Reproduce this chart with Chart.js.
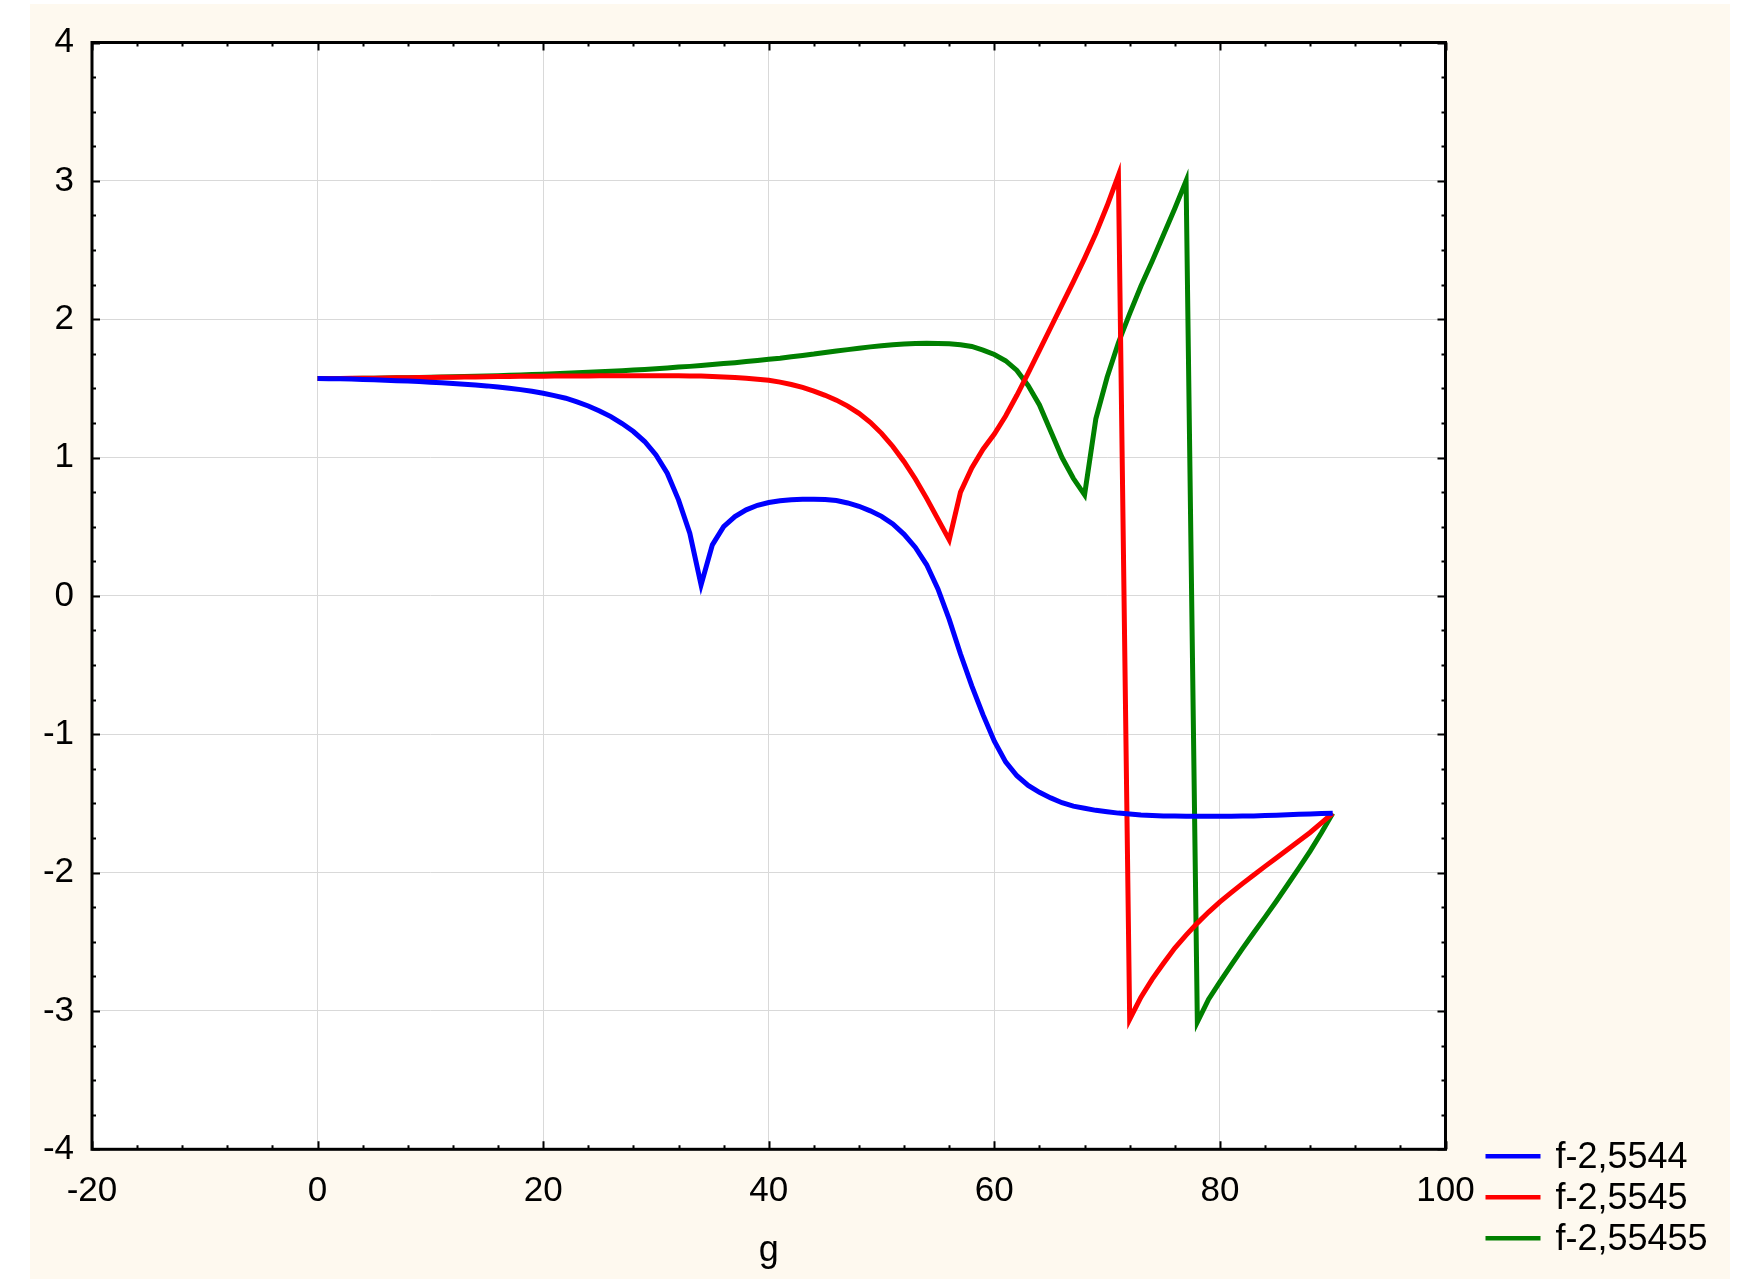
<!DOCTYPE html>
<html>
<head>
<meta charset="utf-8">
<script src="https://cdn.jsdelivr.net/npm/chart.js@4/dist/chart.umd.min.js"></script>
<style>
  html, body { margin: 0; padding: 0; background: #ffffff; }
  #wrap { width: 1737px; height: 1287px; }
</style>
</head>
<body>
<div id="wrap"><canvas id="c" width="1737" height="1287"></canvas></div>
<script>
// ---- data ----
const gValues = [
  0,1,2,3,4,5,6,7,8,9,10,11,12,13,14,15,16,17,18,19,20,
  21,22,23,24,25,26,27,28,29,30,31,32,33,34,35,36,37,38,39,40,
  41,42,43,44,45,46,47,48,49,50,51,52,53,54,55,56,57,58,59,60,
  61,62,63,64,65,66,67,68,69,70,71,72,73,74,75,76,77,78,79,80,
  81,82,83,84,85,86,87,88,89,90
];
const seriesLabels = ['f-2,5544', 'f-2,5545', 'f-2,55455'];
const f25544 = [
  1.571,1.570,1.569,1.567,1.565,1.562,1.559,1.556,1.553,1.549,1.545,
  1.541,1.536,1.530,1.524,1.518,1.510,1.501,1.491,1.479,1.465,
  1.448,1.429,1.403,1.373,1.337,1.296,1.246,1.188,1.116,1.019,
  0.887,0.694,0.453,0.080,0.369,0.501,0.573,0.622,0.655,0.675,
  0.688,0.695,0.699,0.699,0.696,0.689,0.672,0.648,0.615,0.575,
  0.520,0.445,0.350,0.225,0.050,-0.170,-0.420,-0.650,-0.860,-1.050,
  -1.200,-1.300,-1.370,-1.420,-1.460,-1.495,-1.520,-1.535,-1.550,-1.560,
  -1.570,-1.577,-1.583,-1.587,-1.590,-1.591,-1.592,-1.592,-1.592,-1.592,
  -1.592,-1.591,-1.590,-1.588,-1.585,-1.582,-1.579,-1.576,-1.573,-1.571
];
const f25545 = [
  1.571,1.571,1.572,1.573,1.573,1.574,1.575,1.576,1.577,1.578,1.579,
  1.580,1.581,1.582,1.583,1.584,1.585,1.586,1.587,1.587,1.588,
  1.589,1.589,1.590,1.590,1.591,1.591,1.591,1.592,1.592,1.592,
  1.592,1.591,1.590,1.589,1.586,1.583,1.578,1.573,1.566,1.558,
  1.545,1.528,1.507,1.480,1.450,1.415,1.372,1.320,1.255,1.175,
  1.080,0.970,0.845,0.705,0.555,0.405,0.750,0.925,1.060,1.170,
  1.300,1.450,1.610,1.775,1.940,2.105,2.270,2.440,2.620,2.820,
  3.040,-3.060,-2.900,-2.770,-2.655,-2.545,-2.452,-2.365,-2.285,-2.212,
  -2.145,-2.080,-2.017,-1.955,-1.894,-1.833,-1.772,-1.710,-1.640,-1.571
];
const f255455 = [
  1.571,1.571,1.572,1.572,1.573,1.574,1.575,1.576,1.577,1.578,1.580,
  1.582,1.584,1.586,1.588,1.590,1.592,1.595,1.597,1.600,1.603,
  1.606,1.609,1.613,1.616,1.620,1.624,1.628,1.632,1.637,1.642,
  1.648,1.654,1.659,1.665,1.672,1.679,1.686,1.694,1.702,1.710,
  1.718,1.728,1.738,1.748,1.760,1.770,1.780,1.790,1.800,1.808,
  1.815,1.820,1.824,1.826,1.825,1.822,1.815,1.803,1.777,1.745,
  1.700,1.630,1.520,1.380,1.190,1.000,0.850,0.730,1.280,1.580,
  1.830,2.040,2.240,2.420,2.610,2.800,3.000,-3.080,-2.915,-2.790,
  -2.668,-2.550,-2.435,-2.322,-2.207,-2.088,-1.968,-1.845,-1.712,-1.571
];
const xTickStep = 20, yTickStep = 1;
const xMinorStep = 4, yMinorStep = 0.25;

// ---- styling ----
const CREAM = '#fef9ef';
const FONT = "'Liberation Sans', Arial, sans-serif";
const colors = ['#0000ff', '#ff0000', '#008000'];
const seriesData = [f25544, f25545, f255455];

const toPoints = arr => gValues.map((g, i) => ({x: g, y: arr[i]}));

const framePlugin = {
  id: 'frame',
  beforeDraw(chart) {
    const {ctx, chartArea: a, width, height} = chart;
    ctx.save();
    ctx.fillStyle = '#ffffff';
    ctx.fillRect(0, 0, width, height);
    ctx.fillStyle = CREAM;
    ctx.fillRect(30, 4, width - 30 - 7, height - 4 - 8);
    ctx.fillStyle = '#ffffff';
    ctx.fillRect(a.left, a.top, a.right - a.left, a.bottom - a.top);
    ctx.restore();
  },
  afterDraw(chart) {
    const {ctx, chartArea: a, scales} = chart;
    const xs = scales.x, ys = scales.y;
    ctx.save();
    ctx.strokeStyle = '#000000';
    // inward tick marks
    ctx.lineWidth = 2;
    ctx.beginPath();
    for (let v = xs.min; v <= xs.max + 1e-9; v += xMinorStep) {
      const p = Math.round(xs.getPixelForValue(v)) + 0.5;
      const major = Math.abs(v / xTickStep - Math.round(v / xTickStep)) < 1e-6;
      const len = major ? 8 : 4;
      ctx.moveTo(p, a.bottom); ctx.lineTo(p, a.bottom - len);
      ctx.moveTo(p, a.top); ctx.lineTo(p, a.top + len);
    }
    for (let v = ys.min; v <= ys.max + 1e-9; v += yMinorStep) {
      const p = Math.round(ys.getPixelForValue(v)) + 0.5;
      const major = Math.abs(v / yTickStep - Math.round(v / yTickStep)) < 1e-6;
      const len = major ? 8 : 4;
      ctx.moveTo(a.left, p); ctx.lineTo(a.left + len, p);
      ctx.moveTo(a.right, p); ctx.lineTo(a.right - len, p);
    }
    ctx.stroke();
    // frame
    ctx.lineWidth = 3;
    ctx.strokeRect(a.left, a.top, a.right - a.left, a.bottom - a.top);

    // legend (bottom right, below the frame)
    const lx0 = a.right + 40, lx1 = a.right + 95, tx = a.right + 110;
    ctx.font = '36px ' + FONT;
    ctx.textBaseline = 'middle';
    ctx.textAlign = 'left';
    chart.data.datasets.forEach((ds, i) => {
      const y = a.bottom + 7 + i * 41;
      ctx.strokeStyle = ds.borderColor;
      ctx.lineWidth = 4.5;
      ctx.beginPath();
      ctx.moveTo(lx0, y); ctx.lineTo(lx1, y);
      ctx.stroke();
      ctx.fillStyle = '#000000';
      ctx.fillText(ds.label, tx, y + 2);
    });
    ctx.restore();
  }
};

new Chart(document.getElementById('c'), {
  type: 'line',
  data: {
    datasets: seriesLabels.map((lab, i) => ({
      label: lab,
      data: toPoints(seriesData[i]),
      borderColor: colors[i],
      backgroundColor: colors[i],
      borderWidth: 5,
      borderJoinStyle: 'miter',
      pointRadius: 0,
      pointHoverRadius: 0,
      tension: 0,
      fill: false
    }))
  },
  options: {
    responsive: false,
    maintainAspectRatio: false,
    devicePixelRatio: 1,
    animation: false,
    events: [],
    layout: { padding: { left: 0, top: 42.5, right: 291.5, bottom: 10 } },
    plugins: {
      legend: { display: false },
      tooltip: { enabled: false }
    },
    scales: {
      x: {
        type: 'linear',
        min: -20, max: 100,
        afterFit(scale) { scale.height = 127.7; },
        grid: { color: '#d9d9d9', lineWidth: 1, drawTicks: false },
        border: { display: false },
        ticks: {
          stepSize: xTickStep,
          padding: 21,
          color: '#000000',
          maxRotation: 0,
          font: { family: FONT, size: 35 }
        },
        title: {
          display: true,
          text: 'g',
          color: '#000000',
          padding: { top: 0, bottom: 4 },
          font: { family: FONT, size: 36 }
        }
      },
      y: {
        type: 'linear',
        min: -4, max: 4,
        afterFit(scale) { scale.width = 92; },
        grid: { color: '#d9d9d9', lineWidth: 1, drawTicks: false },
        border: { display: false },
        ticks: {
          stepSize: yTickStep,
          padding: 18,
          color: '#000000',
          font: { family: FONT, size: 35 }
        }
      }
    }
  },
  plugins: [framePlugin]
});
</script>
</body>
</html>
